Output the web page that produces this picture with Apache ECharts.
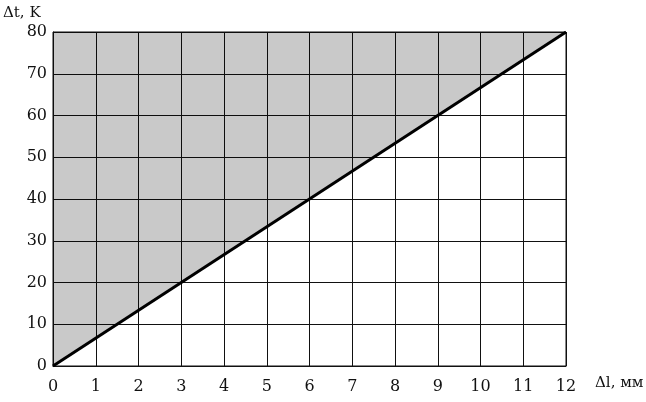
<!DOCTYPE html>
<html>
<head>
<meta charset="utf-8">
<script src="https://cdn.jsdelivr.net/npm/echarts@6/dist/echarts.min.js"></script>
<style>html,body{margin:0;padding:0;background:#fff;}#c{width:646px;height:402px;}</style>
</head>
<body>
<div id="c"></div>
<script>
const dl = [0, 12];
const dt = [0, 80];
const xTicks = ['0','1','2','3','4','5','6','7','8','9','10','11','12'];
const yTicks = ['0','10','20','30','40','50','60','70','80'];
const xName = 'Δl, мм';
const yName = 'Δt, K';

const font = 'DejaVu Serif';
const chart = echarts.init(document.getElementById('c'));
chart.setOption({
  animation: false,
  backgroundColor: '#fff',
  grid: {left: 53, right: 80, top: 32, bottom: 36, show: true, borderColor: '#111', borderWidth: 1, backgroundColor: 'transparent'},
  graphic: [
    {type: 'text', left: 3, top: 6, style: {text: yName, font: '15px "DejaVu Serif"', fill: '#111'}},
    {type: 'text', left: 595, top: 376, style: {text: xName, font: '15px "DejaVu Serif"', fill: '#111'}}
  ],
  xAxis: {
    type: 'value', min: 0, max: 12, interval: 1,
    axisLine: {show: true, lineStyle: {color: '#111', width: 1}},
    axisTick: {show: false},
    splitLine: {show: true, lineStyle: {color: '#111', width: 1}},
    axisLabel: {fontFamily: font, fontSize: 16, color: '#111', margin: 13,
      formatter: v => xTicks[Math.round(v)] }
  },
  yAxis: {
    type: 'value', min: 0, max: 80, interval: 10,
    axisLine: {show: true, lineStyle: {color: '#111', width: 1}},
    axisTick: {show: false},
    splitLine: {show: true, lineStyle: {color: '#111', width: 1}},
    axisLabel: {fontFamily: font, fontSize: 16, color: '#111', margin: 6, padding: [6, 0, 0, 0],
      formatter: v => yTicks[Math.round(v / 10)] }
  },
  series: [{
    type: 'line',
    data: dl.map((x, i) => [x, dt[i]]),
    symbol: 'none',
    lineStyle: {color: '#000', width: 3},
    areaStyle: {origin: 'end', color: 'rgba(0,0,0,0.3)'}
  }]
});
</script>
</body>
</html>
